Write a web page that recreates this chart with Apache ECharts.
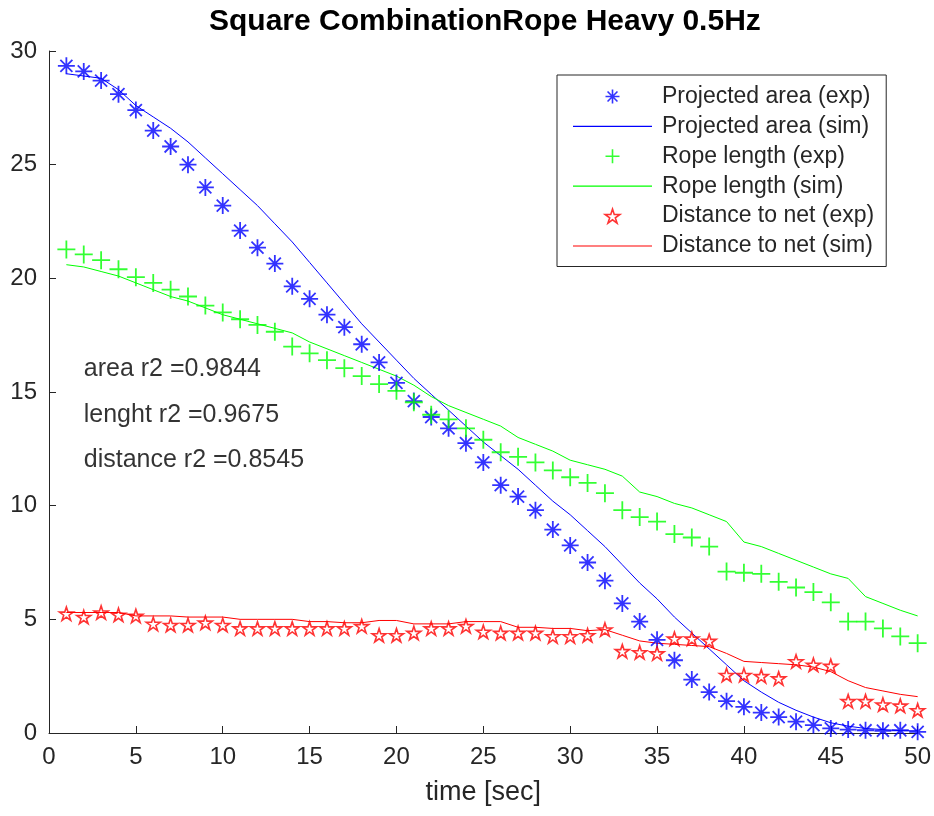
<!DOCTYPE html>
<html>
<head>
<meta charset="utf-8">
<script src="https://cdn.jsdelivr.net/npm/echarts@6/dist/echarts.min.js"></script>
<style>
  html, body { margin: 0; padding: 0; background: #fff; }
  #main { width: 934px; height: 816px; }
</style>
</head>
<body>
<div id="main"></div>
<script>
var time = [1,2,3,4,5,6,7,8,9,10,11,12,13,14,15,16,17,18,19,20,21,22,23,24,25,
            26,27,28,29,30,31,32,33,34,35,36,37,38,39,40,41,42,43,44,45,46,47,48,49,50];

var areaExp = [29.35,29.1,28.7,28.1,27.4,26.5,25.8,25.0,24.0,23.2,22.1,21.35,20.65,19.65,19.1,18.4,17.85,17.1,16.3,15.4,
               14.6,13.9,13.4,12.75,11.9,10.9,10.4,9.8,8.95,8.25,7.5,6.7,5.7,4.9,4.1,3.2,2.35,1.8,1.4,1.15,
               0.9,0.7,0.5,0.35,0.2,0.15,0.12,0.1,0.12,0.05];
var areaSim = [29.0,28.9,28.8,28.3,27.6,27.1,26.6,26.0,25.3,24.6,23.9,23.2,22.4,21.6,20.7,19.8,18.9,18.0,17.2,16.4,
               15.6,14.9,14.2,13.5,12.8,12.2,11.6,10.9,10.2,9.6,8.9,8.2,7.4,6.6,5.9,5.1,4.4,3.7,3.0,2.3,
               1.8,1.35,1.0,0.7,0.45,0.3,0.2,0.15,0.1,0.1];
var ropeExp = [21.27,21.05,20.8,20.4,20.05,19.8,19.5,19.2,18.8,18.5,18.2,17.95,17.65,17.0,16.7,16.4,16.05,15.7,15.35,15.05,
               14.55,14.0,13.8,13.4,12.9,12.35,12.15,11.9,11.55,11.25,11.0,10.55,9.8,9.5,9.3,8.75,8.6,8.2,7.1,7.05,
               7.0,6.65,6.4,6.2,5.75,4.9,4.9,4.6,4.25,3.95];
var ropeSim = [20.6,20.5,20.3,20.1,19.8,19.5,19.2,19.0,18.7,18.4,18.2,18.0,17.8,17.6,17.2,16.9,16.6,16.3,16.0,15.7,
               15.3,14.8,14.4,14.1,13.8,13.5,13.0,12.7,12.4,12.0,11.8,11.6,11.3,10.6,10.4,10.1,9.9,9.6,9.3,8.4,
               8.2,7.9,7.6,7.3,7.0,6.8,6.0,5.7,5.4,5.15];
var distExp = [5.25,5.1,5.3,5.2,5.15,4.8,4.75,4.75,4.85,4.75,4.6,4.6,4.6,4.6,4.6,4.6,4.6,4.7,4.3,4.3,
               4.4,4.6,4.6,4.7,4.45,4.4,4.4,4.4,4.25,4.25,4.3,4.55,3.6,3.55,3.5,4.15,4.15,4.05,2.55,2.55,
               2.5,2.4,3.15,3.0,2.95,1.4,1.4,1.25,1.2,1.0];
var distSim = [5.3,5.3,5.3,5.3,5.15,5.15,5.15,5.1,5.1,5.1,5.0,5.0,5.0,5.0,4.9,4.9,4.85,4.85,4.95,4.95,
               4.8,4.8,4.8,4.9,4.9,4.9,4.65,4.65,4.6,4.6,4.5,4.55,4.3,4.05,3.95,3.9,3.85,3.8,3.5,3.15,
               3.1,3.05,3.0,2.9,2.7,2.3,2.0,1.85,1.7,1.6];

var seriesNames = ['Projected area (exp)','Projected area (sim)','Rope length (exp)',
                   'Rope length (sim)','Distance to net (exp)','Distance to net (sim)'];
var notes = [[2,16,'area r2 =0.9844'],[2,14,'lenght r2 =0.9675'],[2,12,'distance r2 =0.8545']];

var FONT = 'Liberation Sans, Arial, Helvetica, sans-serif';
var ASTERISK = 'path://M0,-8L0,8M-8,0L8,0M-5.66,-5.66L5.66,5.66M-5.66,5.66L5.66,-5.66';
var PLUS = 'path://M0,-8L0,8M-8,0L8,0';
var PENTAGRAM = 'path://M0,-10L2.245,-3.09L9.51,-3.09L3.63,1.18L5.88,8.09L0,3.82L-5.88,8.09L-3.63,1.18L-9.51,-3.09L-2.245,-3.09Z';
var LINE_ICON = 'path://M0,0L80,0L80,1.2L0,1.2Z';

function pairs(ys) { return time.map(function (t, i) { return [t, ys[i]]; }); }

function expSeries(name, ys, sym, size, col, bw) {
  return {
    name: name, type: 'scatter', data: pairs(ys),
    symbol: sym, symbolSize: size, symbolKeepAspect: true,
    itemStyle: { color: 'none', borderColor: col, borderWidth: bw },
    emphasis: { disabled: true }, z: 3
  };
}
function simSeries(name, ys, col) {
  return {
    name: name, type: 'line', data: pairs(ys),
    showSymbol: false, symbol: 'none',
    lineStyle: { color: col, width: 1 }, itemStyle: { color: col },
    emphasis: { disabled: true }, z: 2
  };
}

// legend entries: markers for exp, plain lines for sim
var legendData = seriesNames.map(function (n, i) {
  if (i % 2 === 1) return { name: n, icon: LINE_ICON, itemStyle: { borderWidth: 0 } };
  return { name: n };
});

var myChart = echarts.init(document.getElementById('main'));
var option = {
  animation: false,
  backgroundColor: '#fff',
  title: {
    text: 'Square CombinationRope Heavy 0.5Hz',
    left: 204, top: 2,
    textStyle: { fontFamily: FONT, fontSize: 30, fontWeight: 'bold', color: '#000' }
  },
  grid: { left: 49, right: 16, top: 51, bottom: 83 },
  legend: {
    data: legendData,
    orient: 'vertical',
    left: 557, top: 75,
    padding: [10, 12, 9, 16],
    itemWidth: 79, itemHeight: 14, itemGap: 6.9,
    backgroundColor: '#fff',
    borderColor: '#262626', borderWidth: 1,
    itemStyle: { borderWidth: 1.6 },
    textStyle: { fontFamily: FONT, fontSize: 23, color: '#262626', padding: [0, 0, 0, 5] },
    selectedMode: false
  },
  xAxis: {
    type: 'value', min: 0, max: 50, interval: 5,
    name: 'time [sec]', nameLocation: 'middle', nameGap: 46,
    nameTextStyle: { fontFamily: FONT, fontSize: 27, color: '#262626' },
    axisLine: { onZero: false, lineStyle: { color: '#262626', width: 1 } },
    axisTick: { inside: true, length: 7, lineStyle: { color: '#262626' } },
    axisLabel: { fontFamily: FONT, fontSize: 24, color: '#262626', margin: 12 },
    splitLine: { show: false }
  },
  yAxis: {
    type: 'value', min: 0, max: 30, interval: 5,
    axisLine: { show: true, onZero: false, lineStyle: { color: '#262626', width: 1 } },
    axisTick: { show: true, inside: true, length: 7, lineStyle: { color: '#262626' } },
    axisLabel: { fontFamily: FONT, fontSize: 24, color: '#262626', margin: 12 },
    splitLine: { show: false }
  },
  series: [
    expSeries(seriesNames[0], areaExp, ASTERISK, 17, '#0000ff', 1.8),
    simSeries(seriesNames[1], areaSim, '#0000ff'),
    expSeries(seriesNames[2], ropeExp, PLUS, 18, '#00ff00', 1.8),
    simSeries(seriesNames[3], ropeSim, '#00ff00'),
    expSeries(seriesNames[4], distExp, PENTAGRAM, 14, '#ff0000', 1.6),
    simSeries(seriesNames[5], distSim, '#ff0000'),
    {
      name: 'notes', type: 'scatter', data: notes, symbolSize: 0, silent: true,
      label: {
        show: true, position: [0, 0], align: 'left', verticalAlign: 'middle',
        fontFamily: FONT, fontSize: 25, color: '#000',
        formatter: function (p) { return p.data[2]; }
      }
    }
  ]
};
myChart.setOption(option);
</script>
</body>
</html>
